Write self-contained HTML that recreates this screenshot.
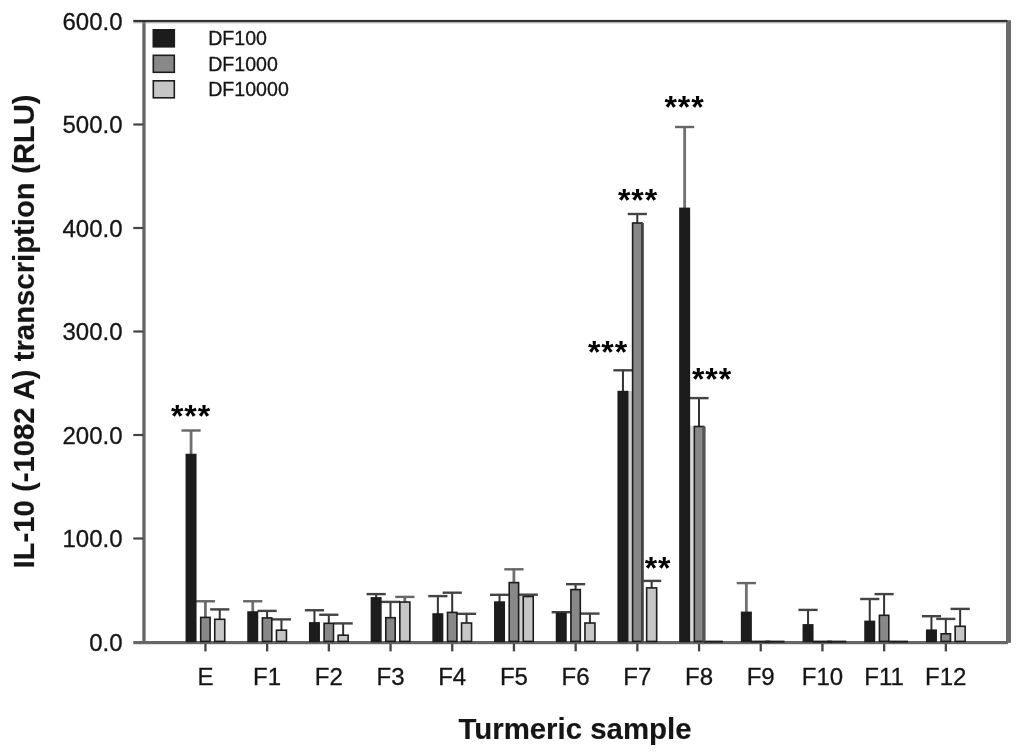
<!DOCTYPE html>
<html lang="en"><head><meta charset="utf-8"><title>IL-10 transcription chart</title>
<style>html,body{margin:0;padding:0;background:#fff}body{width:1024px;height:756px;overflow:hidden}svg{display:block}text{font-family:"Liberation Sans",Arial,Helvetica,sans-serif;fill:#151515;stroke:#151515;stroke-width:.3px}.b{font-weight:bold;stroke-width:.15px}</style></head><body>
<svg width="1024" height="756" viewBox="0 0 1024 756">
<rect width="1024" height="756" fill="#fff"/>
<rect x="628" y="391" width="4.4" height="251" fill="#cfcfcf"/>
<rect x="689.5" y="426" width="4" height="216" fill="#d8d8d8"/>
<rect x="519" y="596" width="4" height="46" fill="#cfcfcf"/>
<rect x="189.65" y="430.50" width="2.8" height="24.25" fill="#707070"/>
<rect x="181.45" y="429.30" width="19.2" height="2.4" fill="#666"/>
<rect x="204.00" y="601.25" width="2.8" height="16.35" fill="#707070"/>
<rect x="195.80" y="600.05" width="19.2" height="2.4" fill="#666"/>
<rect x="218.75" y="609.40" width="2.0" height="10.10" fill="#333"/>
<rect x="210.15" y="608.20" width="19.2" height="2.4" fill="#444"/>
<rect x="251.35" y="601.25" width="2.8" height="11.00" fill="#707070"/>
<rect x="243.15" y="600.05" width="19.2" height="2.4" fill="#666"/>
<rect x="266.10" y="610.90" width="2.0" height="7.20" fill="#333"/>
<rect x="257.50" y="609.70" width="19.2" height="2.4" fill="#444"/>
<rect x="280.45" y="619.40" width="2.0" height="11.00" fill="#333"/>
<rect x="271.85" y="618.20" width="19.2" height="2.4" fill="#444"/>
<rect x="313.45" y="610.25" width="2.0" height="12.85" fill="#333"/>
<rect x="304.85" y="609.05" width="19.2" height="2.4" fill="#444"/>
<rect x="327.80" y="614.75" width="2.0" height="8.75" fill="#333"/>
<rect x="319.20" y="613.55" width="19.2" height="2.4" fill="#444"/>
<rect x="342.15" y="623.40" width="2.0" height="12.00" fill="#333"/>
<rect x="333.55" y="622.20" width="19.2" height="2.4" fill="#444"/>
<rect x="375.15" y="594.10" width="2.0" height="4.00" fill="#333"/>
<rect x="366.55" y="592.90" width="19.2" height="2.4" fill="#444"/>
<rect x="389.50" y="601.90" width="2.0" height="16.00" fill="#333"/>
<rect x="380.90" y="600.70" width="19.2" height="2.4" fill="#444"/>
<rect x="403.45" y="596.90" width="2.8" height="5.35" fill="#707070"/>
<rect x="395.25" y="595.70" width="19.2" height="2.4" fill="#666"/>
<rect x="436.85" y="596.10" width="2.0" height="18.10" fill="#333"/>
<rect x="428.25" y="594.90" width="19.2" height="2.4" fill="#444"/>
<rect x="451.20" y="592.70" width="2.0" height="19.90" fill="#333"/>
<rect x="442.60" y="591.50" width="19.2" height="2.4" fill="#444"/>
<rect x="465.55" y="613.80" width="2.0" height="9.40" fill="#333"/>
<rect x="456.95" y="612.60" width="19.2" height="2.4" fill="#444"/>
<rect x="498.55" y="594.80" width="2.0" height="7.50" fill="#333"/>
<rect x="489.95" y="593.60" width="19.2" height="2.4" fill="#444"/>
<rect x="512.50" y="569.30" width="2.8" height="13.50" fill="#707070"/>
<rect x="504.30" y="568.10" width="19.2" height="2.4" fill="#666"/>
<rect x="527.25" y="594.70" width="2.0" height="2.00" fill="#333"/>
<rect x="518.65" y="593.50" width="19.2" height="2.4" fill="#444"/>
<rect x="560.25" y="612.20" width="2.0" height="1.40" fill="#333"/>
<rect x="551.65" y="611.00" width="19.2" height="2.4" fill="#444"/>
<rect x="574.60" y="584.20" width="2.0" height="5.60" fill="#333"/>
<rect x="566.00" y="583.00" width="19.2" height="2.4" fill="#444"/>
<rect x="588.95" y="613.60" width="2.0" height="9.60" fill="#333"/>
<rect x="580.35" y="612.40" width="19.2" height="2.4" fill="#444"/>
<rect x="621.95" y="370.30" width="2.0" height="21.50" fill="#333"/>
<rect x="613.35" y="369.10" width="19.2" height="2.4" fill="#444"/>
<rect x="636.30" y="214.00" width="2.0" height="9.20" fill="#333"/>
<rect x="627.70" y="212.80" width="19.2" height="2.4" fill="#444"/>
<rect x="650.65" y="580.90" width="2.0" height="7.20" fill="#333"/>
<rect x="642.05" y="579.70" width="19.2" height="2.4" fill="#444"/>
<rect x="683.25" y="127.00" width="2.8" height="81.60" fill="#707070"/>
<rect x="675.05" y="125.80" width="19.2" height="2.4" fill="#666"/>
<rect x="698.00" y="398.10" width="2.0" height="28.60" fill="#333"/>
<rect x="689.40" y="396.90" width="19.2" height="2.4" fill="#444"/>
<rect x="744.95" y="583.10" width="2.8" height="29.50" fill="#707070"/>
<rect x="736.75" y="581.90" width="19.2" height="2.4" fill="#666"/>
<rect x="807.05" y="609.90" width="2.0" height="15.20" fill="#333"/>
<rect x="798.45" y="608.70" width="19.2" height="2.4" fill="#444"/>
<rect x="868.75" y="599.00" width="2.0" height="22.60" fill="#333"/>
<rect x="860.15" y="597.80" width="19.2" height="2.4" fill="#444"/>
<rect x="883.10" y="594.10" width="2.0" height="21.40" fill="#333"/>
<rect x="874.50" y="592.90" width="19.2" height="2.4" fill="#444"/>
<rect x="930.45" y="616.20" width="2.0" height="14.20" fill="#333"/>
<rect x="921.85" y="615.00" width="19.2" height="2.4" fill="#444"/>
<rect x="944.80" y="618.90" width="2.0" height="15.10" fill="#333"/>
<rect x="936.20" y="617.70" width="19.2" height="2.4" fill="#444"/>
<rect x="959.15" y="608.90" width="2.0" height="17.60" fill="#333"/>
<rect x="950.55" y="607.70" width="19.2" height="2.4" fill="#444"/>
<rect x="142.3" y="20" width="3.3" height="623" fill="#666"/>
<rect x="1006" y="20.3" width="5" height="622.6" fill="#6a6a6a"/>
<rect x="133.3" y="641" width="874.6" height="3.2" fill="#666"/>
<rect x="133.3" y="22.1" width="873" height="1.3" fill="#bbb"/>
<rect x="142.3" y="22.1" width="3.3" height="1.3" fill="#666"/>
<rect x="133.3" y="19.9" width="874.2" height="2.2" fill="#333"/>
<rect x="186.35" y="454.55" width="9.4" height="186.85" fill="#1c1c1c" stroke="#1c1c1c" stroke-width="1.6"/>
<rect x="200.70" y="617.40" width="9.4" height="24.00" fill="#888888" stroke="#1c1c1c" stroke-width="1.6"/>
<rect x="214.75" y="619.30" width="10.0" height="22.10" fill="#c6c6c6" stroke="#1c1c1c" stroke-width="1.6"/>
<rect x="248.05" y="612.05" width="9.4" height="29.35" fill="#1c1c1c" stroke="#1c1c1c" stroke-width="1.6"/>
<rect x="262.40" y="617.90" width="9.4" height="23.50" fill="#888888" stroke="#1c1c1c" stroke-width="1.6"/>
<rect x="276.45" y="630.20" width="10.0" height="11.20" fill="#c6c6c6" stroke="#1c1c1c" stroke-width="1.6"/>
<rect x="309.75" y="622.90" width="9.4" height="18.50" fill="#1c1c1c" stroke="#1c1c1c" stroke-width="1.6"/>
<rect x="324.10" y="623.30" width="9.4" height="18.10" fill="#888888" stroke="#1c1c1c" stroke-width="1.6"/>
<rect x="338.15" y="635.20" width="10.0" height="6.20" fill="#c6c6c6" stroke="#1c1c1c" stroke-width="1.6"/>
<rect x="371.45" y="597.90" width="9.4" height="43.50" fill="#1c1c1c" stroke="#1c1c1c" stroke-width="1.6"/>
<rect x="385.80" y="617.70" width="9.4" height="23.70" fill="#888888" stroke="#1c1c1c" stroke-width="1.6"/>
<rect x="399.85" y="602.05" width="10.0" height="39.35" fill="#c6c6c6" stroke="#1c1c1c" stroke-width="1.6"/>
<rect x="433.15" y="614.00" width="9.4" height="27.40" fill="#1c1c1c" stroke="#1c1c1c" stroke-width="1.6"/>
<rect x="447.50" y="612.40" width="9.4" height="29.00" fill="#888888" stroke="#1c1c1c" stroke-width="1.6"/>
<rect x="461.55" y="623.00" width="10.0" height="18.40" fill="#c6c6c6" stroke="#1c1c1c" stroke-width="1.6"/>
<rect x="494.85" y="602.10" width="9.4" height="39.30" fill="#1c1c1c" stroke="#1c1c1c" stroke-width="1.6"/>
<rect x="509.20" y="582.60" width="9.4" height="58.80" fill="#888888" stroke="#1c1c1c" stroke-width="1.6"/>
<rect x="523.25" y="596.50" width="10.0" height="44.90" fill="#c6c6c6" stroke="#1c1c1c" stroke-width="1.6"/>
<rect x="556.55" y="613.40" width="9.4" height="28.00" fill="#1c1c1c" stroke="#1c1c1c" stroke-width="1.6"/>
<rect x="570.90" y="589.60" width="9.4" height="51.80" fill="#888888" stroke="#1c1c1c" stroke-width="1.6"/>
<rect x="584.95" y="623.00" width="10.0" height="18.40" fill="#c6c6c6" stroke="#1c1c1c" stroke-width="1.6"/>
<rect x="618.25" y="391.60" width="9.4" height="249.80" fill="#1c1c1c" stroke="#1c1c1c" stroke-width="1.6"/>
<rect x="632.60" y="223.00" width="9.4" height="418.40" fill="#888888" stroke="#1c1c1c" stroke-width="1.6"/>
<rect x="646.65" y="587.90" width="10.0" height="53.50" fill="#c6c6c6" stroke="#1c1c1c" stroke-width="1.6"/>
<rect x="679.95" y="208.40" width="9.4" height="433.00" fill="#1c1c1c" stroke="#1c1c1c" stroke-width="1.6"/>
<rect x="694.30" y="426.50" width="9.4" height="214.90" fill="#888888" stroke="#1c1c1c" stroke-width="1.6"/>
<rect x="703.75" y="640.60" width="19.1" height="2" fill="#1c1c1c"/>
<rect x="741.65" y="612.40" width="9.4" height="29.00" fill="#1c1c1c" stroke="#1c1c1c" stroke-width="1.6"/>
<rect x="751.10" y="640.60" width="19.1" height="2" fill="#1c1c1c"/>
<rect x="765.45" y="640.60" width="19.1" height="2" fill="#1c1c1c"/>
<rect x="803.35" y="624.90" width="9.4" height="16.50" fill="#1c1c1c" stroke="#1c1c1c" stroke-width="1.6"/>
<rect x="812.80" y="640.60" width="19.1" height="2" fill="#1c1c1c"/>
<rect x="827.15" y="640.60" width="19.1" height="2" fill="#1c1c1c"/>
<rect x="865.05" y="621.40" width="9.4" height="20.00" fill="#1c1c1c" stroke="#1c1c1c" stroke-width="1.6"/>
<rect x="879.40" y="615.30" width="9.4" height="26.10" fill="#888888" stroke="#1c1c1c" stroke-width="1.6"/>
<rect x="888.85" y="640.60" width="19.1" height="2" fill="#1c1c1c"/>
<rect x="926.75" y="630.20" width="9.4" height="11.20" fill="#1c1c1c" stroke="#1c1c1c" stroke-width="1.6"/>
<rect x="941.10" y="633.80" width="9.4" height="7.60" fill="#888888" stroke="#1c1c1c" stroke-width="1.6"/>
<rect x="955.15" y="626.30" width="10.0" height="15.10" fill="#c6c6c6" stroke="#1c1c1c" stroke-width="1.6"/>
<rect x="702.4" y="426.5" width="3.2" height="215" fill="#555"/>
<rect x="641.2" y="223" width="2.6" height="419" fill="#444"/>
<text x="122.5" y="650.60" font-size="24" text-anchor="end">0.0</text>
<rect x="133.3" y="537.40" width="10" height="2.2" fill="#444"/>
<text x="122.5" y="547.10" font-size="24" text-anchor="end">100.0</text>
<rect x="133.3" y="433.90" width="10" height="2.2" fill="#444"/>
<text x="122.5" y="443.60" font-size="24" text-anchor="end">200.0</text>
<rect x="133.3" y="330.40" width="10" height="2.2" fill="#444"/>
<text x="122.5" y="340.10" font-size="24" text-anchor="end">300.0</text>
<rect x="133.3" y="226.90" width="10" height="2.2" fill="#444"/>
<text x="122.5" y="236.60" font-size="24" text-anchor="end">400.0</text>
<rect x="133.3" y="123.40" width="10" height="2.2" fill="#444"/>
<text x="122.5" y="133.10" font-size="24" text-anchor="end">500.0</text>
<text x="122.5" y="29.60" font-size="24" text-anchor="end">600.0</text>
<rect x="204.30" y="644" width="2.3" height="7.4" fill="#444"/>
<text x="205.40" y="685" font-size="24" text-anchor="middle">E</text>
<rect x="266.00" y="644" width="2.3" height="7.4" fill="#444"/>
<text x="267.10" y="685" font-size="24" text-anchor="middle">F1</text>
<rect x="327.70" y="644" width="2.3" height="7.4" fill="#444"/>
<text x="328.80" y="685" font-size="24" text-anchor="middle">F2</text>
<rect x="389.40" y="644" width="2.3" height="7.4" fill="#444"/>
<text x="390.50" y="685" font-size="24" text-anchor="middle">F3</text>
<rect x="451.10" y="644" width="2.3" height="7.4" fill="#444"/>
<text x="452.20" y="685" font-size="24" text-anchor="middle">F4</text>
<rect x="512.80" y="644" width="2.3" height="7.4" fill="#444"/>
<text x="513.90" y="685" font-size="24" text-anchor="middle">F5</text>
<rect x="574.50" y="644" width="2.3" height="7.4" fill="#444"/>
<text x="575.60" y="685" font-size="24" text-anchor="middle">F6</text>
<rect x="636.20" y="644" width="2.3" height="7.4" fill="#444"/>
<text x="637.30" y="685" font-size="24" text-anchor="middle">F7</text>
<rect x="697.90" y="644" width="2.3" height="7.4" fill="#444"/>
<text x="699.00" y="685" font-size="24" text-anchor="middle">F8</text>
<rect x="759.60" y="644" width="2.3" height="7.4" fill="#444"/>
<text x="760.70" y="685" font-size="24" text-anchor="middle">F9</text>
<rect x="821.30" y="644" width="2.3" height="7.4" fill="#444"/>
<text x="822.40" y="685" font-size="24" text-anchor="middle">F10</text>
<rect x="883.00" y="644" width="2.3" height="7.4" fill="#444"/>
<text x="884.10" y="685" font-size="24" text-anchor="middle">F11</text>
<rect x="944.70" y="644" width="2.3" height="7.4" fill="#444"/>
<text x="945.80" y="685" font-size="24" text-anchor="middle">F12</text>
<text class="b" x="575" y="738.7" font-size="29.4" text-anchor="middle">Turmeric sample</text>
<text class="b" transform="translate(34.2 331.5) rotate(-90)" font-size="29.3" text-anchor="middle">IL-10 (-1082 A) transcription (RLU)</text>
<rect x="153.3" y="29.8" width="21" height="17" fill="#1c1c1c" stroke="#1c1c1c" stroke-width="1.6"/>
<text x="208.2" y="45" font-size="19.6">DF100</text>
<rect x="153.3" y="55.3" width="21" height="17" fill="#888888" stroke="#1c1c1c" stroke-width="1.6"/>
<text x="208.2" y="70.5" font-size="19.6">DF1000</text>
<rect x="153.3" y="80.8" width="21" height="17" fill="#c6c6c6" stroke="#1c1c1c" stroke-width="1.6"/>
<text x="208.2" y="96" font-size="19.6">DF10000</text>
<text x="191" y="426.7" letter-spacing="0.9" font-size="32" font-weight="bold" text-anchor="middle" style="fill:#000;stroke:none">***</text>
<text x="608" y="362.5" letter-spacing="0.9" font-size="32" font-weight="bold" text-anchor="middle" style="fill:#000;stroke:none">***</text>
<text x="638" y="210.7" letter-spacing="0.9" font-size="32" font-weight="bold" text-anchor="middle" style="fill:#000;stroke:none">***</text>
<text x="684.5" y="117.6" letter-spacing="0.9" font-size="32" font-weight="bold" text-anchor="middle" style="fill:#000;stroke:none">***</text>
<text x="712" y="389.7" letter-spacing="0.9" font-size="32" font-weight="bold" text-anchor="middle" style="fill:#000;stroke:none">***</text>
<text x="658" y="579.1" letter-spacing="0.9" font-size="32" font-weight="bold" text-anchor="middle" style="fill:#000;stroke:none">**</text>
</svg></body></html>
